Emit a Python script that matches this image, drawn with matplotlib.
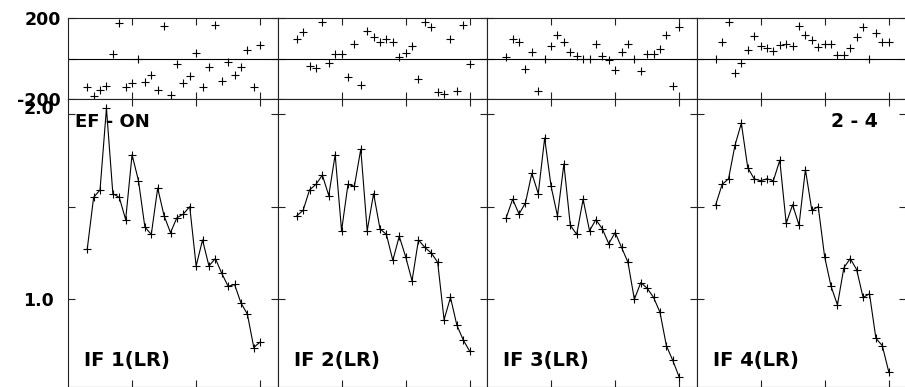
import numpy as np
import matplotlib
matplotlib.use("Agg")
import matplotlib.pyplot as plt

# x positions of the samples (same in every panel)
x = np.arange(3, 31)

# upper strip values (phase-like, -200..200)
top1 = [-140, -182, -153, -132, 22, 175, -137, -120, -3, -115, -78, -153, 163, -178,
        -28, -120, -83, 30, -140, -40, 168, -112, -17, -78, -40, 43, -140, 68]
top2 = [97, 130, -37, -45, 180, -20, 22, 25, -92, 72, -128, 138, 108, 83,
        97, 83, 10, 30, 63, -98, 180, 155, -165, -173, 97, -157, 168, -28]
top3 = [10, 97, 83, -48, 33, -157, -3, 63, 117, 83, 35, 13, 0, 0,
        72, 13, -8, -53, 33, 72, 0, -62, 22, 22, 50, 118, -133, 155]
top4 = [0, 83, 180, -70, -20, 43, 113, 63, 55, 38, 67, 72, 63, 160,
        117, 93, 60, 72, 72, 18, 18, 55, 110, 155, -3, 127, 85, 85]

# lower panel values
low1 = [1.27, 1.55, 1.59, 2.03, 1.57, 1.55, 1.43, 1.78, 1.64, 1.39, 1.35, 1.60, 1.45, 1.36,
        1.44, 1.46, 1.50, 1.18, 1.32, 1.18, 1.22, 1.14, 1.07, 1.08, 0.98, 0.92, 0.74, 0.77]
low2 = [1.45, 1.48, 1.59, 1.62, 1.67, 1.56, 1.78, 1.37, 1.62, 1.61, 1.81, 1.37, 1.57, 1.38,
        1.35, 1.21, 1.34, 1.23, 1.10, 1.32, 1.28, 1.25, 1.20, 0.89, 1.01, 0.86, 0.78, 0.72]
low3 = [1.44, 1.54, 1.46, 1.52, 1.68, 1.57, 1.87, 1.61, 1.45, 1.73, 1.40, 1.35, 1.54, 1.37,
        1.43, 1.38, 1.30, 1.36, 1.28, 1.20, 1.00, 1.09, 1.06, 1.01, 0.93, 0.75, 0.67, 0.58]
low4 = [1.51, 1.62, 1.65, 1.83, 1.95, 1.71, 1.65, 1.64, 1.65, 1.64, 1.75, 1.41, 1.51, 1.40,
        1.70, 1.48, 1.50, 1.23, 1.07, 0.97, 1.17, 1.22, 1.16, 1.01, 1.03, 0.79, 0.75, 0.61]

tops = [top1, top2, top3, top4]
lows = [low1, low2, low3, low4]
panel_names = ["IF 1(LR)", "IF 2(LR)", "IF 3(LR)", "IF 4(LR)"]

plt.rcParams["font.family"] = "DejaVu Sans"
plt.rcParams["font.weight"] = "bold"

W, H = 905, 387
fig = plt.figure(figsize=(W / 100, H / 100), dpi=100)

x0 = 68.0       # left edge of first panel (px)
pw = 209.5      # panel width (px)
top_y0, top_y1 = 18.3, 99.3   # top strip, px from top
low_y1 = 387.0

def fx(px):
    return px / W

def fy(py):
    return 1 - py / H

tick_kw = dict(direction="in", length=5, width=0.8, top=True, right=True,
               bottom=True, left=True, colors="#222222")

for i in range(4):
    left = fx(x0 + i * pw)
    width = fx(pw)

    # upper strip
    ax = fig.add_axes([left, fy(top_y1), width, fy(top_y0) - fy(top_y1)])
    ax.plot(x, tops[i], ls="none", marker="+", ms=6, mew=0.8, color="k")
    ax.axhline(0, color="k", lw=0.8)
    ax.set_xlim(0, 32.7)
    ax.set_ylim(-200, 200)
    ax.set_xticks([10, 20, 30])
    ax.set_yticks([-200, 0, 200])
    ax.tick_params(**tick_kw, labelbottom=False, labelleft=(i == 0), pad=5,
                   labelsize=12.5, labelcolor="k")
    ax.set_yticklabels(["-200", "", "200"])
    for s in ax.spines.values():
        s.set_linewidth(0.8)
        s.set_color("#222222")

    # lower panel
    ax2 = fig.add_axes([left, 0, width, fy(top_y1)])
    ax2.plot(x, lows[i], color="k", lw=0.8, marker="+", ms=6, mew=0.8)
    ax2.set_xlim(0, 32.7)
    ax2.set_ylim(0.527, 2.079)
    ax2.set_xticks([10, 20, 30])
    ax2.set_yticks([1.0, 1.5, 2.0])
    ax2.tick_params(**tick_kw, labelbottom=False, labelleft=(i == 0), pad=10,
                    labelsize=12.5, labelcolor="k")
    ax2.set_yticklabels(["1.0", "", "2.0"])
    if i == 0:
        ax2.get_yticklabels()[2].set_va("baseline")
    for s in ax2.spines.values():
        s.set_linewidth(0.8)
        s.set_color("#222222")

    fig.text(fx(x0 + i * pw + 16), fy(366), panel_names[i], fontsize=14,
             fontweight="bold", ha="left", va="baseline")

fig.text(fx(75), fy(127), "EF - ON", fontsize=13, fontweight="bold",
         ha="left", va="baseline")
fig.text(fx(878), fy(127), "2 - 4", fontsize=13.5, fontweight="bold",
         ha="right", va="baseline")

fig.savefig("out.png", dpi=100)
